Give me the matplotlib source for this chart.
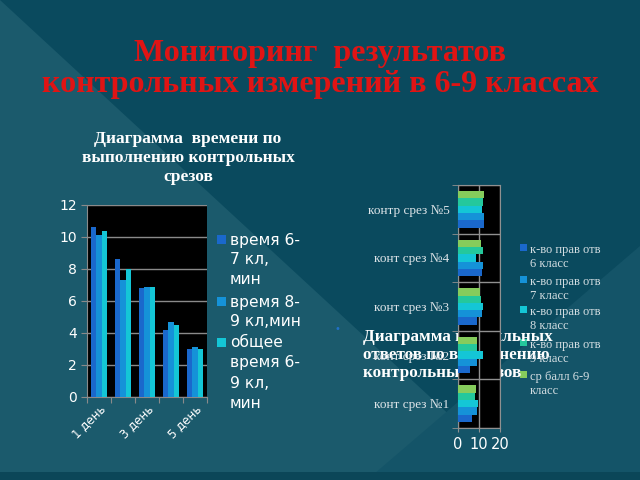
import matplotlib
matplotlib.use("Agg")
import matplotlib.pyplot as plt
from matplotlib.patches import Polygon, Rectangle
import numpy as np

# ---- data ----
days = ["1 день", "2 день", "3 день", "4 день", "5 день"]
time_series = ["время 6-\n7 кл,\nмин", "время 8-\n9 кл,мин", "общее\nвремя 6-\n9 кл,\nмин"]
time_67 = [10.6, 8.6, 6.8, 4.2, 3.0]
time_89 = [10.1, 7.3, 6.9, 4.7, 3.1]
time_all = [10.4, 8.0, 6.9, 4.5, 3.0]

tests = ["конт срез №1", "конт срез №2", "конт срез №3", "конт срез №4", "контр срез №5"]
res_series = ["к-во прав отв\n6 класс", "к-во прав отв\n7 класс", "к-во прав отв\n8 класс",
              "к-во прав отв\n9 класс", "ср балл 6-9\nкласс"]
right_6 = [6.6, 5.8, 9.3, 11.6, 12.2]
right_7 = [9.3, 9.3, 11.3, 11.8, 12.4]
right_8 = [9.8, 11.8, 11.8, 8.7, 11.7]
right_9 = [8.2, 9.0, 10.9, 12.1, 11.9]
avg_69 = [8.5, 9.0, 10.5, 11.0, 12.4]

title = "Мониторинг  результатов\nконтрольных измерений в 6-9 классах"
sub1 = "Диаграмма  времени по\nвыполнению контрольных\nсрезов"
sub2 = "Диаграмма правильных\nответов по выполнению\nконтрольных срезов"

c_left = ["#1a68cc", "#1592d8", "#14c6d6"]
c_right = ["#1a68cc", "#1592d8", "#14c6d6", "#24c89c", "#86cc5c"]

W, H = 640, 480
fig = plt.figure(figsize=(6.4, 4.8), dpi=100)
fig.patch.set_facecolor("#0a4a5e")

def P(x, y):
    return (x / W, 1 - y / H)

# background shapes
fig.patches.append(Polygon([P(0, 0), P(520, 480), P(0, 480)], closed=True,
                           transform=fig.transFigure, facecolor="#1b5a6c",
                           edgecolor="none", zorder=-10))
fig.patches.append(Polygon([P(640, 246), P(640, 480), P(367, 480)], closed=True,
                           transform=fig.transFigure, facecolor="#145468",
                           edgecolor="none", zorder=-9))
fig.patches.append(Rectangle(P(0, 480), 1, 8 / H, transform=fig.transFigure,
                             facecolor="#0b4658", edgecolor="none", zorder=-8))

serif = "Liberation Serif"

fig.text(320 / W, 1 - 69 / H, title, ha="center", va="center", color="#e01414",
         fontsize=23, fontweight="bold", family=serif, linespacing=1.08)
fig.text(188 / W, 1 - 158 / H, sub1, ha="center", va="center", color="white",
         fontsize=12.5, fontweight="bold", family=serif, linespacing=1.25,
         multialignment="center")
fig.text(363 / W, 1 - 355 / H, sub2, ha="left", va="center", color="white",
         fontsize=12.3, fontweight="bold", family=serif, linespacing=1.15, zorder=1)
fig.text(337 / W, 1 - 329 / H, "•", ha="center", va="center", color="#2070c8",
         fontsize=7, zorder=1)

# ---- left chart ----
ax1 = fig.add_axes([87 / W, 1 - 397 / H, 120 / W, 192 / H])
ax1.set_facecolor("black")
x = np.arange(len(days))
w = 0.22
for i, vals in enumerate([time_67, time_89, time_all]):
    ax1.bar(x + (i - 1) * w, vals, width=w, color=c_left[i], zorder=3)
ax1.set_xlim(-0.5, 4.5)
ax1.set_ylim(0, 12)
ax1.set_yticks(np.arange(0, 13, 2))
ax1.yaxis.grid(True, color="#8a8a8a", lw=1, zorder=1)
ax1.set_xticks(np.arange(-0.5, 5, 1), labels=[""] * 6)
ax1.set_xticks(x[::2], labels=days[::2], minor=True)
ax1.tick_params(axis="x", which="minor", length=0, labelsize=8.5, labelcolor="white",
                labelrotation=45, pad=4)
for lbl in ax1.get_xticklabels(minor=True):
    lbl.set_ha("right")
    lbl.set_rotation_mode("anchor")
ax1.tick_params(axis="x", which="major", length=4, color="#8a8a8a")
ax1.tick_params(axis="y", length=4, color="#8a8a8a", labelsize=10, labelcolor="white")
for s in ["top", "right"]:
    ax1.spines[s].set_visible(False)
for s in ["left", "bottom"]:
    ax1.spines[s].set_color("#8a8a8a")

# left legend
ys_left = [240, 302, 343]
for i, lab in enumerate(time_series):
    fig.patches.append(Rectangle(P(217, ys_left[i] + 4), 9 / W, 9 / H,
                                 transform=fig.transFigure, facecolor=c_left[i],
                                 edgecolor="none"))
    for j, line in enumerate(lab.split("\n")):
        fig.text(230 / W, 1 - (ys_left[i] + 20 * j) / H, line, ha="left", va="center",
                 color="white", fontsize=11.2, family="DejaVu Sans")

# ---- right chart ----
ax2 = fig.add_axes([457.7 / W, 1 - 428 / H, 42.3 / W, 243 / H])
ax2.set_zorder(5)
ax2.set_facecolor("black")
y = np.arange(len(tests))
h = 0.15
for i, vals in enumerate([right_6, right_7, right_8, right_9, avg_69]):
    ax2.barh(y + (i - 2) * h, vals, height=h, color=c_right[i], zorder=3)
ax2.set_xlim(0, 20)
ax2.set_ylim(-0.5, 4.5)
ax2.set_xticks([0, 10, 20])
ax2.set_yticks(y, labels=tests)
ax2.set_yticks(np.arange(-0.5, 5, 1), minor=True)
ax2.grid(True, which="minor", axis="y", color="#909090", lw=1, zorder=1)
ax2.grid(True, which="major", axis="x", color="#909090", lw=1, zorder=1)
ax2.tick_params(axis="y", which="major", length=0, labelsize=9.5, labelcolor="#dde4e8",
                pad=6)
for lbl in ax2.get_yticklabels():
    lbl.set_family(serif)
ax2.tick_params(axis="y", which="minor", length=4, color="#909090")
ax2.tick_params(axis="x", length=3, color="#909090", labelsize=10.5, labelcolor="white")
for s in ax2.spines.values():
    s.set_color("#909090")

ys_right = [250, 282, 312, 345, 377]
for i, lab in enumerate(res_series):
    fig.patches.append(Rectangle(P(520, ys_right[i] + 1), 7 / W, 7 / H,
                                 transform=fig.transFigure, facecolor=c_right[i],
                                 edgecolor="none"))
    for j, line in enumerate(lab.split("\n")):
        fig.text(530 / W, 1 - (ys_right[i] + 14 * j) / H, line, ha="left", va="center",
                 color="#d4dee2", fontsize=9, family=serif)

fig.savefig("out.png", dpi=100, facecolor=fig.get_facecolor())
